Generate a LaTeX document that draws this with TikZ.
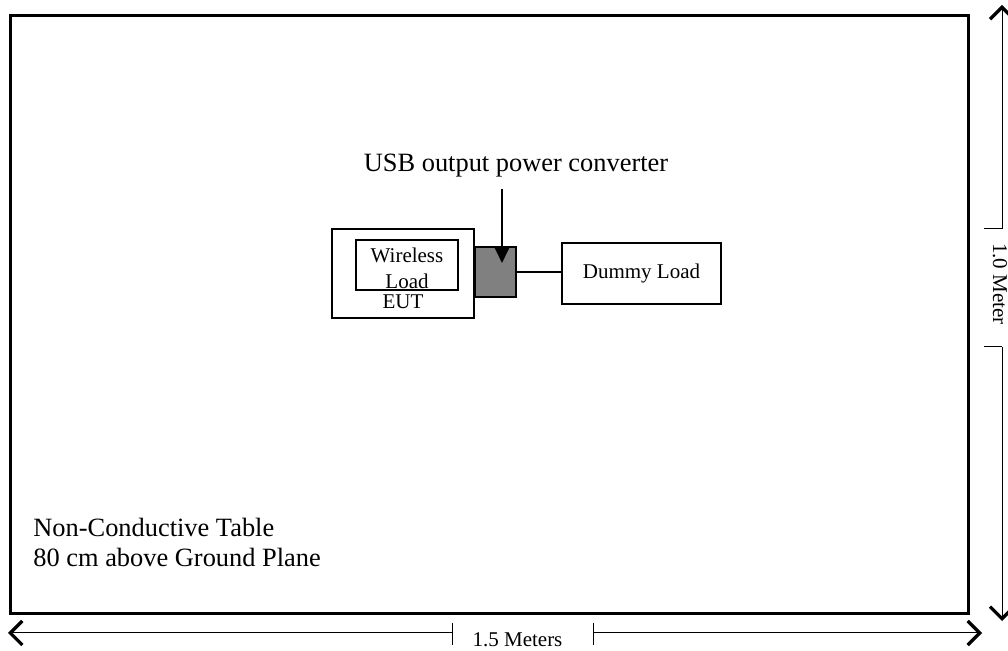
\documentclass[tikz,border=0pt]{standalone}
\usepackage{fontspec}
\setmainfont{Liberation Serif}
\usetikzlibrary{arrows.meta,calc}
\begin{document}
\begin{tikzpicture}[x=0.5pt,y=-0.5pt,
  bigtext/.style={inner sep=0pt, font=\fontsize{13.2}{15}\selectfont},
  smalltext/.style={inner sep=0pt, font=\fontsize{10.5}{13}\selectfont},
  box/.style={draw, line width=0.6pt, inner sep=0pt},
  dimline/.style={line width=0.5pt},
  dimarrow/.style={line width=0.5pt, -{Straight Barb[length=6pt,width=12pt,line width=1.6pt]}},
  feed/.style={line width=1pt, -{Triangle[length=7.5pt,width=7pt]}}]
\useasboundingbox (0,0) rectangle (1008,651);

% table outline
\node[draw, line width=1.5pt, minimum width=479pt, minimum height=299pt, inner sep=0pt] (table) at (489,315) {};

% equipment under test with its wireless load
\node[box, minimum width=71pt, minimum height=44.5pt] (eut) at (403,273.5) {};
\node[box, line width=0.75pt, minimum width=51pt, minimum height=25pt] (wl) at (407,265) {};
\node[smalltext, anchor=base] (wl1) at (407,263) {Wireless};
\node[smalltext, anchor=base] (wl2) at (407,289) {Load};
\node[smalltext, anchor=base] (eutlabel) at (403,309) {EUT};

% power converter and dummy load
\node[box, line width=0.75pt, fill=black!50, minimum width=20.5pt, minimum height=25pt] (conv) at (495.5,272) {};
\node[box, minimum width=79.5pt, minimum height=30.5pt, smalltext] (dummy) at (641.5,273.5) {Dummy Load};
\draw[line width=0.6pt] (conv.east) -- (conv.east -| dummy.west);

% converter label and pointer
\node[bigtext, anchor=base] (usb) at (516,172) {USB output power converter};
\coordinate (ptrtop) at (502,189);
\coordinate (ptrtip) at (502,263);
\draw[feed] (ptrtop) -- (ptrtip);

% table note
\node[bigtext, anchor=base west] (note1) at (33,537) {Non-Conductive Table};
\node[bigtext, anchor=base west] (note2) at (33,567) {80 cm above Ground Plane};

% length dimension
\coordinate (hL) at (8,633);
\coordinate (hR) at (982,633);
\coordinate (t1a) at (452,623);
\coordinate (t1b) at (452,645);
\coordinate (t2a) at (593,623);
\coordinate (t2b) at (593,645);
\draw[dimline] (t1a) -- (t1b);
\draw[dimline] (t2a) -- (t2b);
\draw[dimarrow] (t1a |- hL) -- (hL);
\draw[dimarrow] (t2a |- hR) -- (hR);
\node[smalltext, anchor=base] (lenlabel) at (517.5,647) {1.5 Meters};

% width dimension
\coordinate (vT) at (1002,5);
\coordinate (vB) at (1002,621);
\coordinate (u1a) at (984,229);
\coordinate (u1b) at (1002,229);
\coordinate (u2a) at (984,347);
\coordinate (u2b) at (1002,347);
\draw[dimline] (u1a) -- (u1b);
\draw[dimline] (u2a) -- (u2b);
\draw[dimarrow] (u1b) -- (vT);
\draw[dimarrow] (u2b) -- (vB);
\node[smalltext, rotate=-90] (widlabel) at (1000,284) {1.0 Meter};
\end{tikzpicture}
\end{document}
